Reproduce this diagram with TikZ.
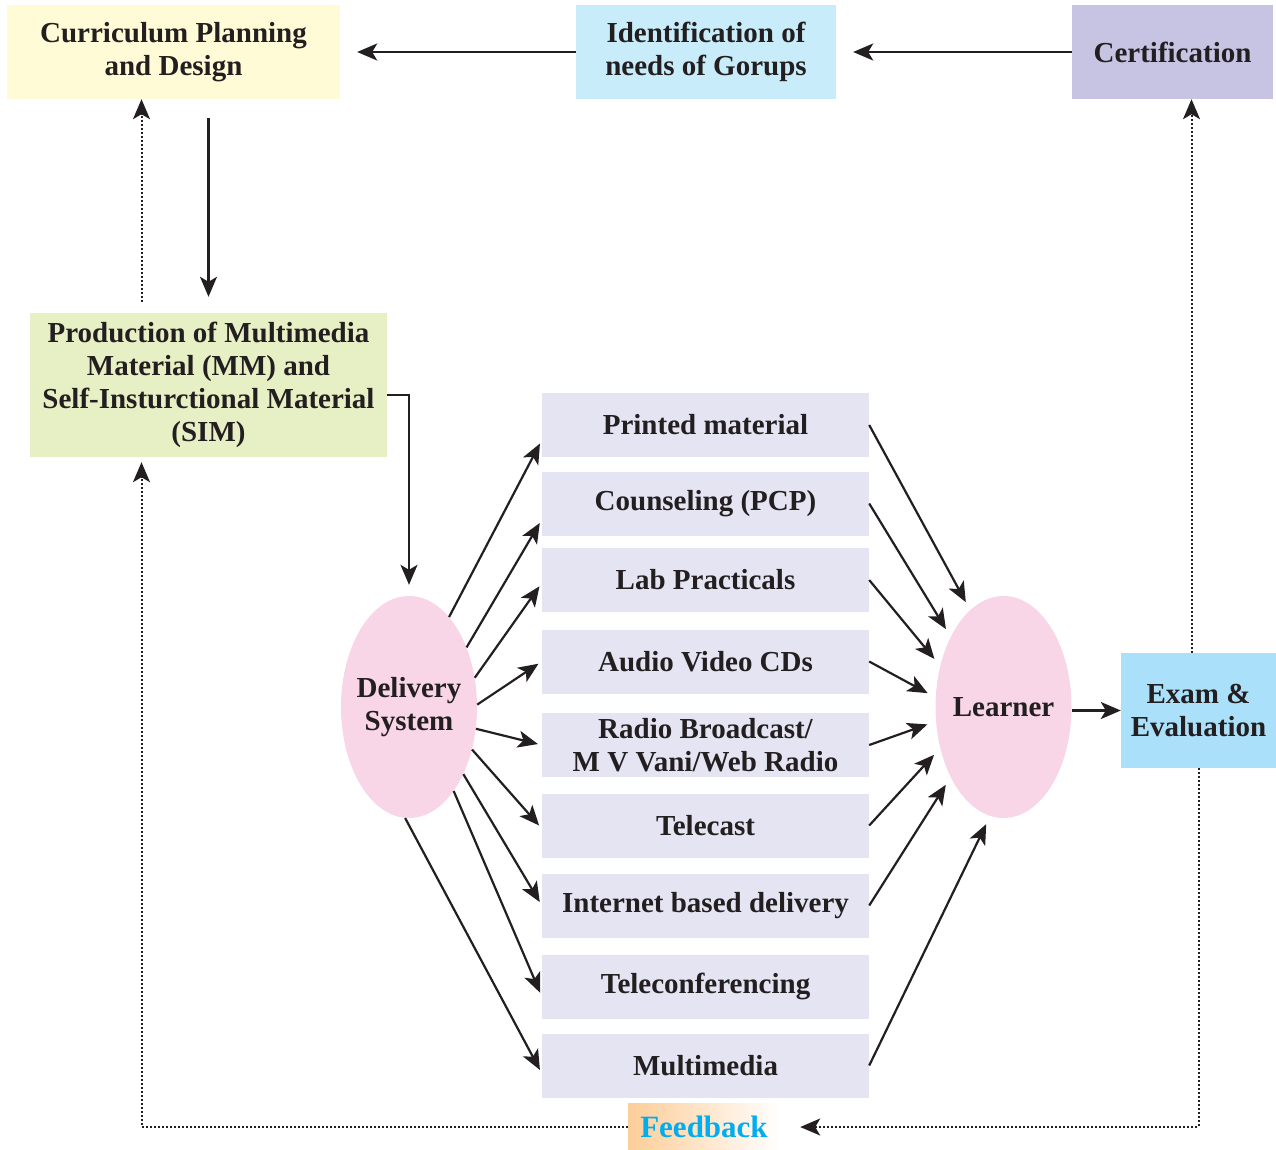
\documentclass[tikz,border=0pt]{standalone}
\usepackage{fontspec}
\setmainfont{Liberation Serif}
\usetikzlibrary{shapes.geometric,arrows.meta}
\definecolor{inkdark}{RGB}{35, 31, 32}
\definecolor{planyellow}{RGB}{255, 251, 214}
\definecolor{needblue}{RGB}{200, 236, 250}
\definecolor{certlilac}{RGB}{198, 196, 226}
\definecolor{prodgreen}{RGB}{231, 240, 196}
\definecolor{mediafill}{RGB}{229, 228, 243}
\definecolor{ovalpink}{RGB}{248, 213, 231}
\definecolor{exblue}{RGB}{170, 224, 250}
\definecolor{fborange}{RGB}{253, 205, 152}
\definecolor{fbcyan}{RGB}{0, 174, 239}

\begin{document}
\begin{tikzpicture}[x=1pt,y=-1pt,
  every node/.style={font=\fontsize{29}{33}\selectfont\bfseries, text=inkdark},
  topbox/.style={minimum height=94pt, align=center, inner sep=0pt},
  mediabox/.style={fill=mediafill, minimum width=327pt, minimum height=64pt, align=center, inner sep=0pt},
  oval/.style={ellipse, fill=ovalpink, minimum width=136pt, minimum height=222pt, inner xsep=-9pt, inner ysep=0pt, align=center},
  link/.style={line width=2.2pt, draw=inkdark, -{Stealth[length=20pt,width=17pt,inset=5pt]}},
  fblink/.style={link, line width=2pt, dash pattern=on 2pt off 2pt}]
\useasboundingbox (0,0) rectangle (1276,1149);

% Top row
\node[topbox, fill=planyellow, minimum width=333pt] (plan) at (173.5,52) {Curriculum Planning\\and Design};
\node[topbox, fill=needblue, minimum width=260pt] (needs) at (706,52) {Identification of\\needs of Gorups};
\node[topbox, fill=certlilac, minimum width=201pt] (cert) at (1172.5,52) {Certification};

% Production and the two ovals
\node[topbox, fill=prodgreen, minimum width=357pt, minimum height=144pt] (prod) at (208.5,385) {Production of Multimedia\\Material (MM) and\\Self-Insturctional Material\\(SIM)};
\node[oval] (delivery) at (409,707) {Delivery\\System};
\node[oval] (learner) at (1003.5,707) {Learner};
\node[topbox, fill=exblue, minimum width=155pt, minimum height=115pt] (exam) at (1198.5,710.5) {Exam \&\\Evaluation};
\node[left color=fborange, right color=white, minimum width=152pt, minimum height=47pt, inner sep=0pt,
  font=\fontsize{31}{33}\selectfont\bfseries, text=fbcyan] (feedback) at (704,1127) {Feedback};

% Media
\foreach \name/\ypos/\txt in {printed/425/Printed material, counsel/503.5/Counseling (PCP), lab/580/Lab Practicals,
  audio/661.5/Audio Video CDs, radio/745/{Radio Broadcast/\\M V Vani/Web Radio}, telecast/825.5/Telecast,
  internet/905.5/Internet based delivery, teleconf/986.5/Teleconferencing, multi/1065.5/Multimedia}
  \node[mediabox] (\name) at (705.5,\ypos) {\txt};

% Top flow
\draw[link, shorten >=17pt] (needs.west) -- (plan.east);
\draw[link, shorten >=17pt] (cert.west) -- (needs.east);
\draw[link, shorten <=19pt, shorten >=16pt] (prod.north |- plan.south) -- (prod.north);
\draw[fblink, shorten <=11pt] ([xshift=-67pt]prod.north) -- ([xshift=-67pt]prod.north |- plan.south);
\draw[link, shorten >=11pt] ([yshift=-10pt]prod.east) -| (delivery.north);

% Delivery system to media
\foreach \ang/\name/\dy in {66.7/printed/-15, 46/counsel/-16, 24/lab/-3, 2/audio/0, 342/radio/0,
  326/telecast/-3, 309.5/internet/0, 298/teleconf/-10, 268/multi/-8}
  \draw[link, shorten >=4pt] (delivery.\ang) -- ([yshift=\dy pt]\name.west);

% Media to learner
\foreach \name/\ang in {printed/109, counsel/127.7, lab/147.6, audio/172, radio/192,
  telecast/213.5, internet/233, multi/263}
  \draw[link, shorten >=9pt] (\name.east) -- (learner.\ang);

\draw[link] (exam.west -| learner.east) -- (exam.west);

% Feedback loops
\draw[fblink] ([xshift=-7pt]exam.north) -- ([xshift=-7pt]exam.north |- cert.south);
\draw[fblink, shorten >=20pt] (exam.south) |- (feedback.east);
\draw[fblink, shorten >=5pt] (feedback.west) -| ([xshift=-67pt]prod.south);
\end{tikzpicture}
\end{document}
